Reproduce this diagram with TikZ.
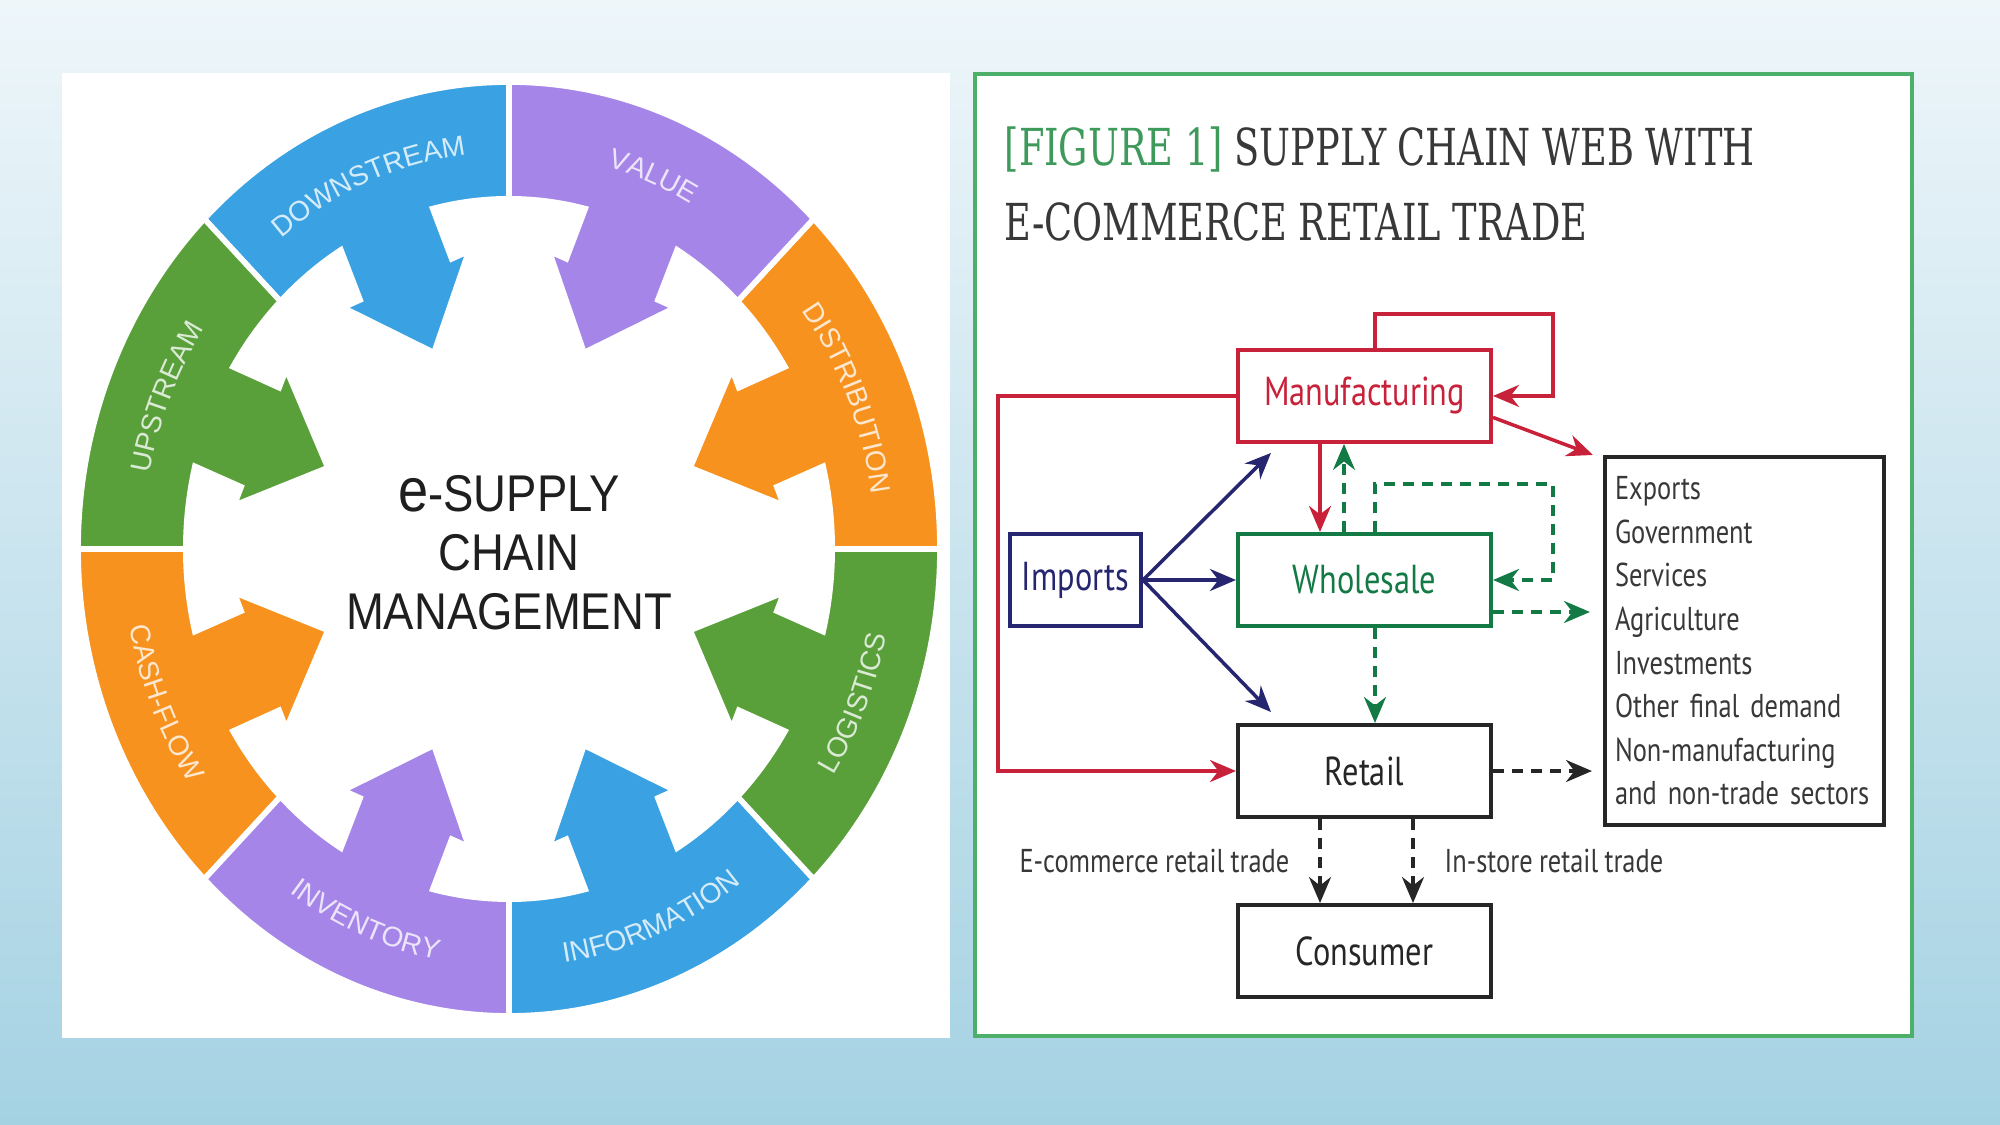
\documentclass[tikz,border=0pt]{standalone}
\usepackage{fontspec}
\setsansfont{Liberation Sans}
\newfontfamily\titlefont[FakeStretch=0.72]{DejaVu Serif}
\newfontfamily\boxfont[FakeStretch=0.8]{PT Sans}
\newfontfamily\hubfont[FakeStretch=0.88]{Liberation Sans}
\DeclareRobustCommand\listfont{\boxfont\fontsize{9.4}{12.4}\selectfont\spaceskip=0.19em\relax}
\usepackage{xcolor}
\usetikzlibrary{arrows.meta,positioning,calc,decorations.text}

\definecolor{bgtop}{HTML}{EEF6FA}
\definecolor{bgbot}{HTML}{A5D2E3}
\definecolor{segorange}{HTML}{F7921E}
\definecolor{segpurple}{HTML}{A585E8}
\definecolor{segblue}{HTML}{3AA2E2}
\definecolor{seggreen}{HTML}{59A03A}
\definecolor{manured}{HTML}{C8213A}
\definecolor{wholegreen}{HTML}{137A45}
\definecolor{impnavy}{HTML}{262670}
\definecolor{framegreen}{HTML}{4DB06A}
\definecolor{figgreen}{HTML}{3E9A5A}
\definecolor{inkgray}{HTML}{383838}

\begin{document}
\begin{tikzpicture}[
  x=0.1mm, y=0.1mm,
  node distance=9mm,
  box/.style={draw, line width=1.15pt, minimum width=25.3mm, minimum height=9.2mm,
    inner sep=2pt, font=\boxfont\fontsize{11.5}{13}\selectfont},
  flow/.style={line width=1pt, -{Stealth[length=2.6mm,width=2.2mm]}},
  dashflow/.style={flow, dash pattern=on 1.1mm off 0.8mm},
  lbl/.style={font=\listfont, text=inkgray, inner sep=0pt},
  titletext/.style={font=\titlefont\fontsize{14.5}{21}\selectfont, text=inkgray, inner sep=0pt},
  seglbl/.style 2 args={decorate, decoration={text along path, text align=center,
    text={|\sffamily\fontsize{8}{8}\selectfont\color{#1!22!white}|#2}}}]

% backdrop
\shade[top color=bgtop, bottom color=bgbot] (0,0) rectangle (2000,1125);
\useasboundingbox (0,0) rectangle (2000,1125);

% left panel: the wheel
\fill[white] (62,87) rectangle (950,1052);
\foreach \k/\col in {0/segorange,1/segpurple,2/segblue,3/seggreen,
                     4/segorange,5/segpurple,6/segblue,7/seggreen}{
  \pgfmathsetmacro\segmid{45*\k+22.5}
  \begin{scope}[shift={(509,576)}, xscale=431, yscale=467, rotate=\segmid]
    \fill[\col, draw=white, line width=1.6pt]
      (-22.5:1) arc[start angle=-22.5, end angle=22.5, radius=1]
      -- (22.5:0.75) arc[start angle=22.5, end angle=8.85, radius=0.75]
      -- (0.625,0.115) -- (0.625,0.158) -- (0.455,0) -- (0.625,-0.158) -- (0.625,-0.115)
      -- (-8.85:0.75) arc[start angle=-8.85, end angle=-22.5, radius=0.75] -- cycle;
  \end{scope}
}
\path[seglbl={segorange}{DISTRIBUTION}] ($(509,576)+(44:36.6mm and 39.7mm)$)
  arc[start angle=44, end angle=1, x radius=36.6mm, y radius=39.7mm];
\path[seglbl={segpurple}{VALUE}] ($(509,576)+(89:36.6mm and 39.7mm)$)
  arc[start angle=89, end angle=46, x radius=36.6mm, y radius=39.7mm];
\path[seglbl={segblue}{DOWNSTREAM}] ($(509,576)+(134:36.6mm and 39.7mm)$)
  arc[start angle=134, end angle=91, x radius=36.6mm, y radius=39.7mm];
\path[seglbl={seggreen}{UPSTREAM}] ($(509,576)+(179:36.6mm and 39.7mm)$)
  arc[start angle=179, end angle=136, x radius=36.6mm, y radius=39.7mm];
\path[seglbl={segorange}{CASH-FLOW}] ($(509,576)+(181:38.6mm and 41.8mm)$)
  arc[start angle=181, end angle=224, x radius=38.6mm, y radius=41.8mm];
\path[seglbl={segpurple}{INVENTORY}] ($(509,576)+(226:38.6mm and 41.8mm)$)
  arc[start angle=226, end angle=269, x radius=38.6mm, y radius=41.8mm];
\path[seglbl={segblue}{INFORMATION}] ($(509,576)+(271:38.6mm and 41.8mm)$)
  arc[start angle=271, end angle=314, x radius=38.6mm, y radius=41.8mm];
\path[seglbl={seggreen}{LOGISTICS}] ($(509,576)+(316:38.6mm and 41.8mm)$)
  arc[start angle=316, end angle=359, x radius=38.6mm, y radius=41.8mm];
\node[font=\hubfont\fontsize{14.7}{16.8}\selectfont, align=center, text=black!88,
  inner sep=0pt] (hub) at (509,572)
  {{\fontsize{17.5}{16.8}\selectfont e}-SUPPLY\\CHAIN\\MANAGEMENT};

% right panel: supply chain web
\draw[framegreen, line width=0.9pt, fill=white] (975,89) rectangle (1912,1051);
\node[titletext, anchor=base west] (title1) at (1004,959)
  {\textcolor{figgreen}{[FIGURE 1]} SUPPLY CHAIN WEB WITH};
\node[titletext, anchor=base west] (title2) at (1004,884) {E-COMMERCE RETAIL TRADE};

\node[box, draw=wholegreen, text=wholegreen] (whole) at (1364.5,545) {Wholesale};
\node[box, draw=manured, text=manured, above=8.8mm of whole] (manu) {Manufacturing};
\node[box, draw=black!85, text=black!85, below=9.5mm of whole] (retail) {Retail};
\node[box, draw=black!85, text=black!85, below=8.4mm of retail] (consumer) {Consumer};
\node[box, draw=impnavy, text=impnavy, minimum width=13.1mm, left=9.3mm of whole] (imports) {Imports};
\node[lbl, draw=black!85, line width=1.15pt, minimum width=27.9mm, minimum height=36.8mm,
  text width=25.9mm, inner xsep=1mm, align=left] (exports) at (1744.5,484)
  {Exports\\Government\\Services\\Agriculture\\Investments\\Other final demand\\Non-manufacturing\\and non-trade sectors};

% manufacturing flows
\draw[flow, manured] ([xshift=1.05mm]manu.north) -- ++(0,3.4mm) -| ([xshift=6mm]manu.east) -- (manu.east);
\draw[flow, manured] ([yshift=-2.15mm]manu.east) -- ([xshift=-1mm]exports.north west);
\draw[flow, manured] (manu.west) -- ++(-23.8mm,0) |- (retail.west);
\draw[flow, manured] ([xshift=-4.45mm]manu.south) -- ([xshift=-4.45mm]whole.north);

% wholesale flows
\draw[dashflow, wholegreen] ([xshift=-2.05mm]whole.north) -- ([xshift=-2.05mm]manu.south);
\draw[dashflow, wholegreen] ([xshift=1.05mm]whole.north) -- ++(0,4.8mm) -| ([xshift=6mm]whole.east) -- (whole.east);
\draw[dashflow, wholegreen, shorten >=1.3mm] ([yshift=-3.2mm]whole.east) -- ($(whole.east -| exports.west)+(0,-3.2mm)$);
\draw[dashflow, wholegreen] ([xshift=1.05mm]whole.south) -- ([xshift=1.05mm]retail.north);

% imports
\draw[flow, impnavy] (imports.east) -- ($(manu.south west)+(3.5mm,-0.9mm)$);
\draw[flow, impnavy] (imports.east) -- (whole.west);
\draw[flow, impnavy] (imports.east) -- ($(retail.north west)+(3.5mm,1.1mm)$);

% retail flows
\draw[dashflow, black!85, shorten >=1.1mm] (retail.east) -- (retail.east -| exports.west);
\draw[dashflow, black!85] ([xshift=-4.45mm]retail.south) -- ([xshift=-4.45mm]consumer.north);
\draw[dashflow, black!85] ([xshift=4.85mm]retail.south) -- ([xshift=4.85mm]consumer.north);
\coordinate (gap) at ($(retail.south)!0.5!(consumer.north)$);
\node[lbl, anchor=east] (ecom) at ([xshift=-7.45mm]gap) {E-commerce retail trade};
\node[lbl, anchor=west] (instore) at ([xshift=7.95mm]gap) {In-store retail trade};
\end{tikzpicture}
\end{document}
